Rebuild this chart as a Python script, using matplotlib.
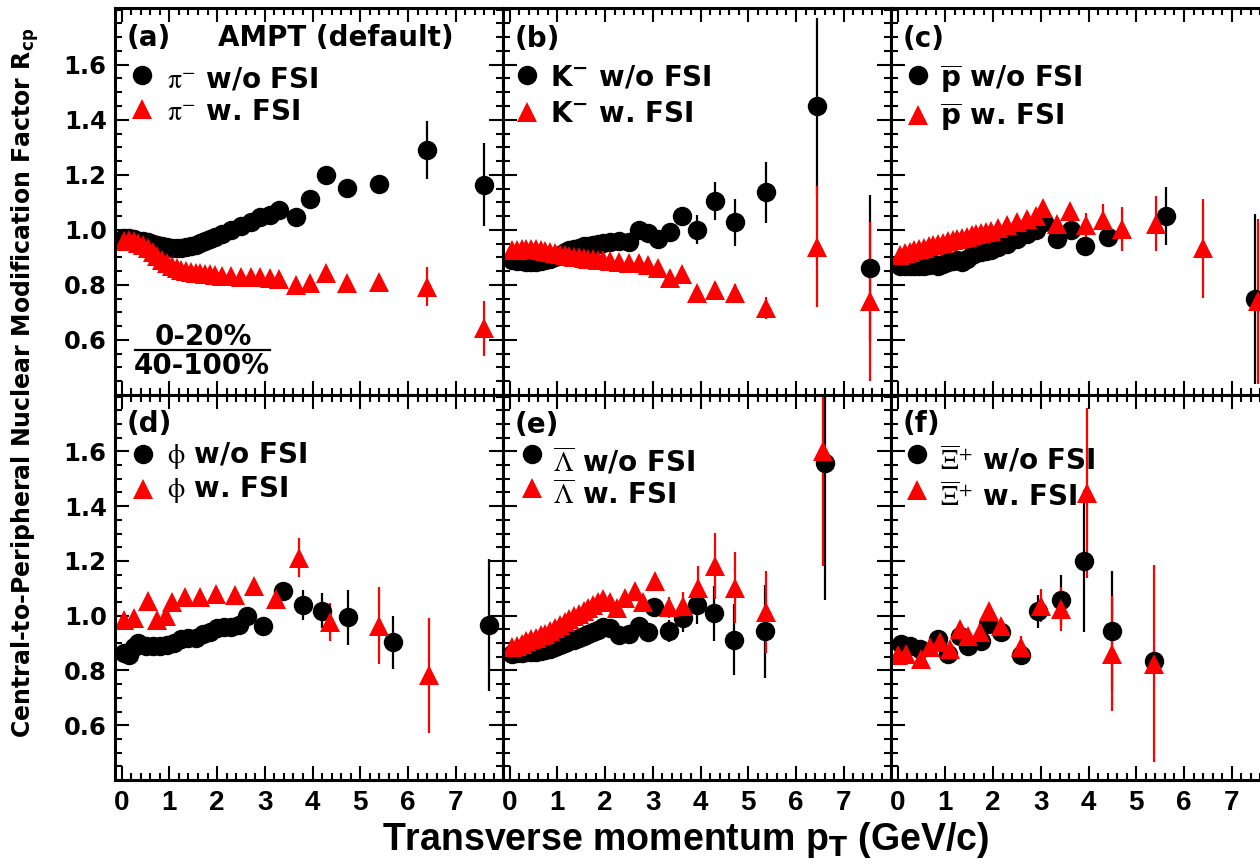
import matplotlib
matplotlib.use('Agg')
import matplotlib.pyplot as plt
from matplotlib.ticker import MultipleLocator

# figure size in pixels, panel boxes in pixels (left edges, top/bottom edges)
W, H = 1260, 865
col_left = [115, 503, 891]
row_edges = [(8, 395), (395, 780)]
PW = 388

# ---- data (pT in GeV/c, Rcp, error) ----
# bins that are shared by the dense low-pT part of several panels
pt_dense = [0.05, 0.15, 0.25, 0.35, 0.45, 0.55, 0.65, 0.75, 0.85, 0.95,
            1.05, 1.15, 1.25, 1.35, 1.45, 1.55, 1.65, 1.75, 1.85, 1.95]
err_dense = [0.003, 0.003, 0.003, 0.003, 0.003, 0.003, 0.003, 0.003, 0.004, 0.004,
             0.004, 0.004, 0.004, 0.005, 0.005, 0.005, 0.005, 0.006, 0.006, 0.006]

# (a) pi-
pt_pi = pt_dense + [2.1, 2.3, 2.5, 2.7, 2.9, 3.1, 3.3, 3.65, 3.95, 4.28, 4.72, 5.4, 6.4, 7.6]
pi_nofsi = [0.97, 0.97, 0.965, 0.96, 0.958, 0.955, 0.95, 0.945, 0.94, 0.938,
            0.935, 0.935, 0.935, 0.937, 0.94, 0.945, 0.952, 0.96, 0.967, 0.975,
            0.985, 1.0, 1.015, 1.03, 1.045, 1.055, 1.073, 1.046, 1.113, 1.2, 1.152, 1.167, 1.29, 1.164]
pi_nofsi_err = err_dense + [0.006, 0.007, 0.007, 0.008, 0.008, 0.009, 0.01, 0.012, 0.015, 0.02, 0.022, 0.03, 0.105, 0.15]
pi_fsi = [0.96, 0.962, 0.958, 0.952, 0.945, 0.935, 0.92, 0.905, 0.892, 0.88,
          0.87, 0.862, 0.855, 0.85, 0.846, 0.843, 0.842, 0.84, 0.838, 0.836,
          0.833, 0.831, 0.83, 0.83, 0.828, 0.824, 0.82, 0.8, 0.806, 0.843, 0.806, 0.812, 0.794, 0.643]
pi_fsi_err = err_dense + [0.005, 0.005, 0.006, 0.006, 0.007, 0.007, 0.008, 0.01, 0.012, 0.015, 0.02, 0.025, 0.07, 0.1]

# (b) K-
pt_k = pt_dense + [2.1, 2.3, 2.5, 2.7, 2.9, 3.1, 3.35, 3.62, 3.93, 4.3, 4.72, 5.38, 6.43, 7.55]
k_nofsi = [0.89, 0.888, 0.886, 0.885, 0.885, 0.885, 0.887, 0.89, 0.895, 0.9,
           0.91, 0.918, 0.925, 0.93, 0.935, 0.94, 0.942, 0.945, 0.948, 0.952,
           0.955, 0.96, 0.955, 1.0, 0.99, 0.966, 0.994, 1.052, 1.0, 1.105, 1.027, 1.136, 1.45, 0.863]
k_nofsi_err = err_dense + [0.006, 0.007, 0.008, 0.009, 0.01, 0.012, 0.015, 0.03, 0.053, 0.068, 0.085, 0.11, 0.32, 0.265]
k_fsi = [0.925, 0.928, 0.93, 0.932, 0.932, 0.93, 0.927, 0.923, 0.92, 0.917,
         0.912, 0.908, 0.905, 0.902, 0.9, 0.897, 0.895, 0.893, 0.891, 0.89,
         0.886, 0.882, 0.878, 0.88, 0.872, 0.862, 0.826, 0.84, 0.77, 0.782, 0.77, 0.715, 0.939, 0.74]
k_fsi_err = err_dense + [0.006, 0.006, 0.007, 0.008, 0.009, 0.01, 0.015, 0.02, 0.025, 0.03, 0.035, 0.04, 0.22, 0.29]

# (c) anti-proton
pt_p_nofsi = pt_dense + [2.1, 2.3, 2.5, 2.7, 2.9, 3.07, 3.33, 3.63, 3.92, 4.4, 5.63, 7.48]
p_nofsi = [0.868, 0.868, 0.868, 0.869, 0.869, 0.87, 0.872, 0.875, 0.868, 0.875,
           0.882, 0.886, 0.89, 0.885, 0.895, 0.91, 0.917, 0.92, 0.924, 0.927,
           0.937, 0.95, 0.965, 0.985, 1.0, 1.03, 0.966, 1.0, 0.943, 0.973, 1.051, 0.749]
p_nofsi_err = err_dense + [0.005, 0.006, 0.006, 0.007, 0.008, 0.01, 0.015, 0.03, 0.025, 0.025, 0.105, 0.31]
pt_p_fsi = pt_dense + [2.1, 2.3, 2.5, 2.7, 2.9, 3.05, 3.33, 3.62, 3.95, 4.31, 4.7, 5.42, 6.4, 7.55]
p_fsi = [0.91, 0.915, 0.92, 0.925, 0.93, 0.935, 0.94, 0.945, 0.95, 0.954,
         0.958, 0.962, 0.966, 0.97, 0.975, 0.98, 0.984, 0.988, 0.992, 0.996,
         1.005, 1.018, 1.03, 1.04, 1.05, 1.079, 1.022, 1.07, 1.018, 1.034, 1.003, 1.022, 0.933, 0.74]
p_fsi_err = err_dense + [0.005, 0.006, 0.006, 0.007, 0.008, 0.01, 0.015, 0.025, 0.045, 0.06, 0.08, 0.1, 0.18, 0.3]

# (d) phi
pt_phi_nofsi = [0.05, 0.15, 0.25, 0.35, 0.5, 0.65, 0.8, 0.95, 1.1, 1.25, 1.4, 1.55, 1.7,
                1.85, 2.0, 2.15, 2.3, 2.45, 2.62, 2.97, 3.39, 3.79, 4.19, 4.75, 5.68, 7.69]
phi_nofsi = [0.865, 0.855, 0.885, 0.9, 0.89, 0.89, 0.89, 0.893, 0.9, 0.915, 0.92, 0.918, 0.935,
             0.94, 0.955, 0.958, 0.96, 0.965, 1.0, 0.964, 1.091, 1.039, 1.018, 0.994, 0.903, 0.966]
phi_nofsi_err = [0.008, 0.008, 0.008, 0.008, 0.008, 0.008, 0.008, 0.008, 0.008, 0.009, 0.009, 0.009, 0.01,
                 0.01, 0.01, 0.011, 0.011, 0.012, 0.015, 0.015, 0.02, 0.055, 0.064, 0.1, 0.097, 0.24]
pt_phi_fsi = [0.05, 0.25, 0.55, 0.73, 0.92, 1.05, 1.33, 1.64, 1.98, 2.38, 2.77, 3.23, 3.72, 4.37, 5.4, 6.43]
phi_fsi = [0.985, 0.99, 1.055, 0.985, 1.0, 1.05, 1.067, 1.07, 1.079, 1.075, 1.107, 1.061, 1.212, 0.976, 0.964, 0.782]
phi_fsi_err = [0.01, 0.01, 0.01, 0.012, 0.012, 0.012, 0.013, 0.014, 0.015, 0.016, 0.02, 0.03, 0.07, 0.07, 0.14, 0.21]

# (e) anti-Lambda
pt_lam_nofsi = pt_dense + [2.1, 2.3, 2.5, 2.7, 2.9, 3.03, 3.33, 3.63, 3.93, 4.28, 4.7, 5.35, 6.6]
lam_nofsi = [0.861, 0.862, 0.864, 0.866, 0.868, 0.869, 0.871, 0.873, 0.878, 0.884,
             0.892, 0.899, 0.906, 0.913, 0.92, 0.926, 0.933, 0.94, 0.948, 0.958,
             0.955, 0.93, 0.935, 0.962, 0.94, 1.03, 0.945, 0.99, 1.039, 1.009, 0.912, 0.943, 1.558]
lam_nofsi_err = err_dense + [0.01, 0.01, 0.01, 0.012, 0.012, 0.03, 0.04, 0.05, 0.07, 0.1, 0.13, 0.17, 0.5]
pt_lam_fsi = pt_dense + [2.1, 2.25, 2.42, 2.62, 2.8, 3.05, 3.33, 3.63, 3.95, 4.31, 4.73, 5.38, 6.57]
lam_fsi = [0.885, 0.89, 0.898, 0.906, 0.914, 0.92, 0.928, 0.935, 0.945, 0.955,
           0.966, 0.977, 0.988, 0.998, 1.008, 1.018, 1.028, 1.038, 1.05, 1.06,
           1.05, 1.027, 1.063, 1.092, 1.05, 1.125, 1.03, 1.036, 1.103, 1.182, 1.103, 1.012, 1.6]
lam_fsi_err = err_dense + [0.01, 0.01, 0.012, 0.012, 0.015, 0.02, 0.04, 0.05, 0.08, 0.12, 0.13, 0.15, 0.42]

# (f) anti-Xi
pt_xi_nofsi = [0.08, 0.25, 0.46, 0.85, 1.06, 1.3, 1.47, 1.75, 1.89, 2.17, 2.58, 2.94, 3.42, 3.91, 4.5, 5.37]
xi_nofsi = [0.897, 0.89, 0.88, 0.915, 0.861, 0.927, 0.891, 0.909, 0.97, 0.94, 0.857, 1.016, 1.057, 1.2, 0.945, 0.833]
xi_nofsi_err = [0.01, 0.01, 0.01, 0.01, 0.01, 0.012, 0.012, 0.015, 0.015, 0.02, 0.03, 0.06, 0.09, 0.26, 0.22, 0.02]
pt_xi_fsi = [0.01, 0.18, 0.48, 0.67, 0.88, 1.09, 1.3, 1.47, 1.72, 1.91, 2.17, 2.58, 3.0, 3.42, 3.96, 4.5, 5.37]
xi_fsi = [0.855, 0.861, 0.842, 0.885, 0.903, 0.879, 0.952, 0.927, 0.94, 1.018, 0.964, 0.885, 1.036, 1.024, 1.449, 0.861, 0.824]
xi_fsi_err = [0.01, 0.01, 0.01, 0.01, 0.01, 0.012, 0.012, 0.012, 0.015, 0.02, 0.02, 0.04, 0.06, 0.08, 0.31, 0.21, 0.36]

# legend names: (tag, particle symbol, font used for the math part)
names = [('(a)', r'$\mathrm{\pi}^{-}$', 'stix'),
         ('(b)', r'K$^{\mathbf{-}}$', 'dejavusans'),
         ('(c)', r'$\overline{\mathbf{p}}$', 'dejavusans'),
         ('(d)', r'$\mathrm{\phi}$', 'stix'),
         ('(e)', r'$\overline{\mathrm{\Lambda}}$', 'stix'),
         ('(f)', r'$\overline{\mathrm{\Xi}}^{+}$', 'stix')]

series = [(pt_pi, pi_nofsi, pi_nofsi_err, pt_pi, pi_fsi, pi_fsi_err),
          (pt_k, k_nofsi, k_nofsi_err, pt_k, k_fsi, k_fsi_err),
          (pt_p_nofsi, p_nofsi, p_nofsi_err, pt_p_fsi, p_fsi, p_fsi_err),
          (pt_phi_nofsi, phi_nofsi, phi_nofsi_err, pt_phi_fsi, phi_fsi, phi_fsi_err),
          (pt_lam_nofsi, lam_nofsi, lam_nofsi_err, pt_lam_fsi, lam_fsi, lam_fsi_err),
          (pt_xi_nofsi, xi_nofsi, xi_nofsi_err, pt_xi_fsi, xi_fsi, xi_fsi_err)]

# legend layout per panel, pixel offsets from the panel's top-left corner:
# marker x, text x, marker y row1/row2, text baseline row1/row2, tag baseline
leg = [(27, 52, 67, 101, 79, 112, 38),
       (24, 47, 67, 104, 78, 114, 39),
       (27, 49, 67, 107, 79, 117, 39),
       (28, 52, 59, 94, 68, 102, 37),
       (29, 50, 59, 93, 76, 109, 38),
       (26, 49, 59, 95, 74, 111, 37)]

legend_font = dict(family='DejaVu Sans', weight='bold', size=20)
MS_CIRC, MS_TRI = 14, 15

fig = plt.figure(figsize=(W / 100, H / 100), dpi=100)

for i in range(6):
    row, col = divmod(i, 3)
    top, bot = row_edges[row]
    ph = bot - top
    ax = fig.add_axes([col_left[col] / W, 1 - bot / H, PW / W, ph / H])

    xb, yb, eb, xr, yr, er = series[i]
    ax.errorbar(xb, yb, yerr=eb, fmt='o', color='black', ms=MS_CIRC, mew=0,
                elinewidth=1.6, capsize=0)
    ax.errorbar(xr, yr, yerr=er, fmt='^', color='red', ms=MS_TRI, mew=0,
                elinewidth=1.6, capsize=0)

    ax.set_xlim(-0.14, 7.99)
    ax.set_ylim(0.40, 1.806)
    ax.set_xticks(range(8))
    ax.xaxis.set_minor_locator(MultipleLocator(0.2))
    ax.set_yticks([0.6, 0.8, 1.0, 1.2, 1.4, 1.6])
    ax.yaxis.set_minor_locator(MultipleLocator(0.05))
    ax.tick_params(which='both', direction='in', top=True, right=True, width=1.5)
    ax.tick_params(which='major', length=10)
    ax.tick_params(which='minor', length=5)
    for s in ax.spines.values():
        s.set_linewidth(2.2)

    if col == 0:
        ax.set_yticklabels(['0.6', '0.8', '1.0', '1.2', '1.4', '1.6'],
                           fontfamily='DejaVu Sans', fontweight='bold', fontsize=17.5)
        ax.tick_params(axis='y', pad=6)
    else:
        ax.set_yticklabels([])
    if row == 1:
        ax.set_xticklabels([str(v) for v in range(8)], fontfamily='Liberation Sans',
                           fontweight='bold', fontsize=20)
        ax.tick_params(axis='x', pad=7)
    else:
        ax.set_xticklabels([])

    # legend drawn by hand, as in the original ROOT canvas
    mx, tx, my1, my2, ty1, ty2, tagy = leg[i]
    tag, sym, mfont = names[i]
    ax.text(12 / PW, 1 - tagy / ph, tag, transform=ax.transAxes, va='baseline', **legend_font)
    if i == 0:
        ax.text(103 / PW, 1 - tagy / ph, 'AMPT (default)', transform=ax.transAxes,
                va='baseline', **legend_font)
    ax.plot(mx / PW, 1 - my1 / ph, 'o', color='black', ms=MS_CIRC, mew=0,
            transform=ax.transAxes, clip_on=False)
    ax.plot(mx / PW, 1 - my2 / ph, '^', color='red', ms=MS_TRI, mew=0,
            transform=ax.transAxes, clip_on=False)
    ax.text(tx / PW, 1 - ty1 / ph, sym + ' w/o FSI', transform=ax.transAxes,
            va='baseline', math_fontfamily=mfont, **legend_font)
    ax.text(tx / PW, 1 - ty2 / ph, sym + ' w. FSI', transform=ax.transAxes,
            va='baseline', math_fontfamily=mfont, **legend_font)

    # centrality ratio in panel (a)
    if i == 0:
        ax.text(88 / PW, 1 - 337 / ph, '0-20%', transform=ax.transAxes, ha='center',
                va='baseline', **legend_font)
        ax.plot([20 / PW, 155 / PW], [1 - 342 / ph, 1 - 342 / ph], color='black', lw=1.6,
                transform=ax.transAxes, clip_on=False)
        ax.text(87 / PW, 1 - 366 / ph, '40-100%', transform=ax.transAxes, ha='center',
                va='baseline', **legend_font)

# axis titles
fig.text(686 / W, 1 - 850 / H, r'Transverse momentum p$_{\mathbf{T}}$ (GeV/c)',
         ha='center', va='baseline', fontfamily='Liberation Sans', fontweight='bold',
         fontsize=27, math_fontfamily='dejavusans')
fig.text(25 / W, 1 - 383 / H, r'Central-to-Peripheral Nuclear Modification Factor R$_{\mathbf{cp}}$',
         ha='center', va='center', rotation=90, fontfamily='DejaVu Sans', fontweight='bold',
         fontsize=17, math_fontfamily='dejavusans')

fig.savefig('out.png', dpi=100)
